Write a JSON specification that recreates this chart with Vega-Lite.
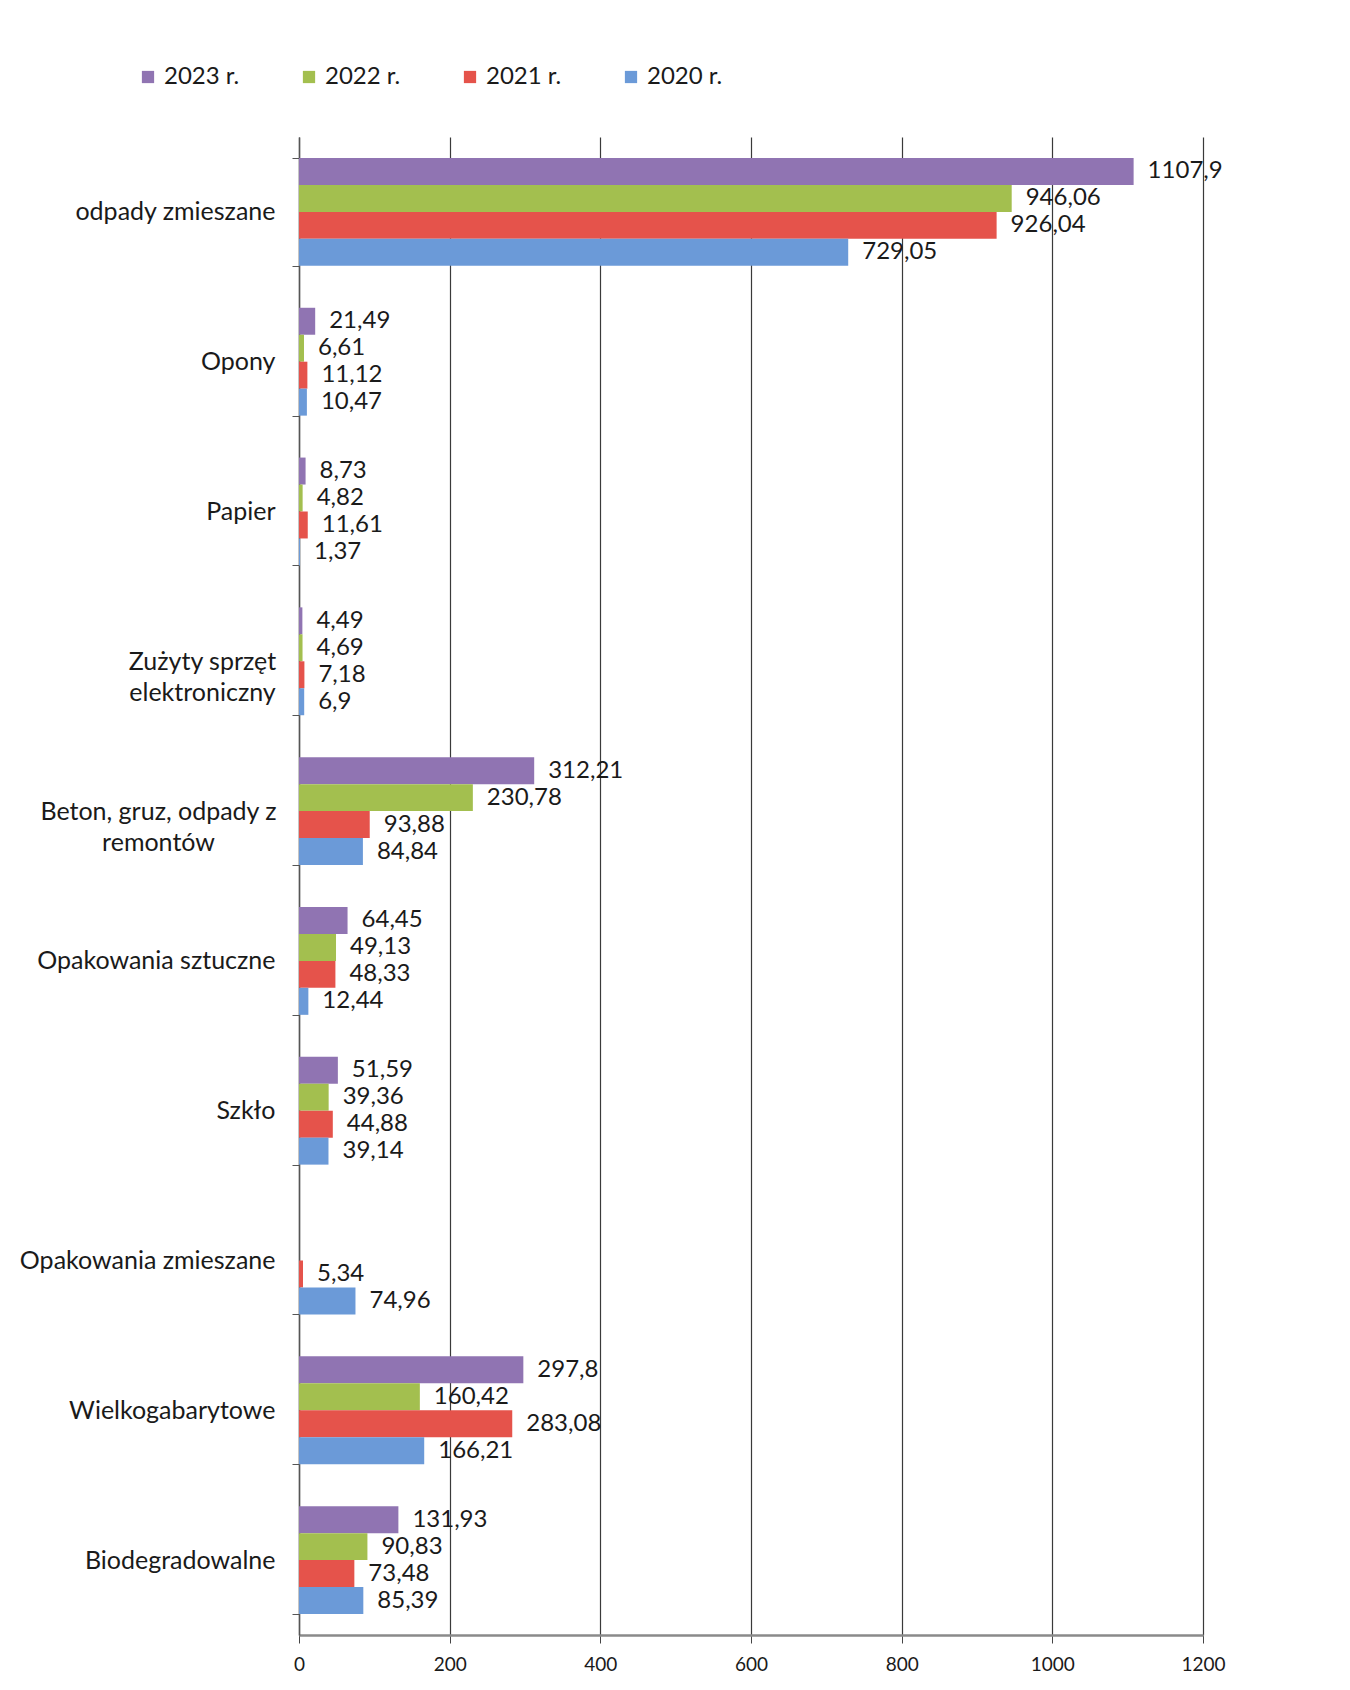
{
  "$schema": "https://vega.github.io/schema/vega-lite/v6.json",
  "autosize": {"type": "none"},
  "padding": {"left": 299, "top": 137, "right": 147, "bottom": 55},
  "width": 904,
  "height": 1498,
  "background": "white",
  "config": {
    "font": "Lato",
    "view": {"stroke": null},
    "locale": {"number": {"decimal": ",", "thousands": "", "grouping": [3], "currency": ["", " zł"]}}
  },
  "data": {
    "values": [
      {"kategoria": "odpady zmieszane", "rok": "2023 r.", "wartosc": 1107.9},
      {"kategoria": "odpady zmieszane", "rok": "2022 r.", "wartosc": 946.06},
      {"kategoria": "odpady zmieszane", "rok": "2021 r.", "wartosc": 926.04},
      {"kategoria": "odpady zmieszane", "rok": "2020 r.", "wartosc": 729.05},
      {"kategoria": "Opony", "rok": "2023 r.", "wartosc": 21.49},
      {"kategoria": "Opony", "rok": "2022 r.", "wartosc": 6.61},
      {"kategoria": "Opony", "rok": "2021 r.", "wartosc": 11.12},
      {"kategoria": "Opony", "rok": "2020 r.", "wartosc": 10.47},
      {"kategoria": "Papier", "rok": "2023 r.", "wartosc": 8.73},
      {"kategoria": "Papier", "rok": "2022 r.", "wartosc": 4.82},
      {"kategoria": "Papier", "rok": "2021 r.", "wartosc": 11.61},
      {"kategoria": "Papier", "rok": "2020 r.", "wartosc": 1.37},
      {"kategoria": "Zużyty sprzęt elektroniczny", "rok": "2023 r.", "wartosc": 4.49},
      {"kategoria": "Zużyty sprzęt elektroniczny", "rok": "2022 r.", "wartosc": 4.69},
      {"kategoria": "Zużyty sprzęt elektroniczny", "rok": "2021 r.", "wartosc": 7.18},
      {"kategoria": "Zużyty sprzęt elektroniczny", "rok": "2020 r.", "wartosc": 6.9},
      {"kategoria": "Beton, gruz, odpady z remontów", "rok": "2023 r.", "wartosc": 312.21},
      {"kategoria": "Beton, gruz, odpady z remontów", "rok": "2022 r.", "wartosc": 230.78},
      {"kategoria": "Beton, gruz, odpady z remontów", "rok": "2021 r.", "wartosc": 93.88},
      {"kategoria": "Beton, gruz, odpady z remontów", "rok": "2020 r.", "wartosc": 84.84},
      {"kategoria": "Opakowania sztuczne", "rok": "2023 r.", "wartosc": 64.45},
      {"kategoria": "Opakowania sztuczne", "rok": "2022 r.", "wartosc": 49.13},
      {"kategoria": "Opakowania sztuczne", "rok": "2021 r.", "wartosc": 48.33},
      {"kategoria": "Opakowania sztuczne", "rok": "2020 r.", "wartosc": 12.44},
      {"kategoria": "Szkło", "rok": "2023 r.", "wartosc": 51.59},
      {"kategoria": "Szkło", "rok": "2022 r.", "wartosc": 39.36},
      {"kategoria": "Szkło", "rok": "2021 r.", "wartosc": 44.88},
      {"kategoria": "Szkło", "rok": "2020 r.", "wartosc": 39.14},
      {"kategoria": "Opakowania zmieszane", "rok": "2021 r.", "wartosc": 5.34},
      {"kategoria": "Opakowania zmieszane", "rok": "2020 r.", "wartosc": 74.96},
      {"kategoria": "Wielkogabarytowe", "rok": "2023 r.", "wartosc": 297.8},
      {"kategoria": "Wielkogabarytowe", "rok": "2022 r.", "wartosc": 160.42},
      {"kategoria": "Wielkogabarytowe", "rok": "2021 r.", "wartosc": 283.08},
      {"kategoria": "Wielkogabarytowe", "rok": "2020 r.", "wartosc": 166.21},
      {"kategoria": "Biodegradowalne", "rok": "2023 r.", "wartosc": 131.93},
      {"kategoria": "Biodegradowalne", "rok": "2022 r.", "wartosc": 90.83},
      {"kategoria": "Biodegradowalne", "rok": "2021 r.", "wartosc": 73.48},
      {"kategoria": "Biodegradowalne", "rok": "2020 r.", "wartosc": 85.39}
    ]
  },
  "encoding": {
    "y": {
      "field": "kategoria",
      "type": "nominal",
      "sort": null,
      "scale": {
        "domain": ["odpady zmieszane", "Opony", "Papier", "Zużyty sprzęt elektroniczny", "Beton, gruz, odpady z remontów", "Opakowania sztuczne", "Szkło", "Opakowania zmieszane", "Wielkogabarytowe", "Biodegradowalne"],
        "paddingInner": 0.28,
        "paddingOuter": 0.14
      },
      "axis": {
        "title": null,
        "tickBand": "extent",
        "grid": false,
        "domainColor": "#555555",
        "domainWidth": 1.5,
        "tickColor": "#555555",
        "tickSize": 7,
        "labelFontSize": 25,
        "labelColor": "#1a1a1a",
        "labelLimit": 400,
        "labelLineHeight": 31,
        "labelExpr": "datum.value == 'Zużyty sprzęt elektroniczny' ? ['Zużyty sprzęt', 'elektroniczny'] : datum.value == 'Beton, gruz, odpady z remontów' ? ['Beton, gruz, odpady z', 'remontów'] : datum.value",
        "labelAlign": {"condition": {"test": "datum.value == 'Zużyty sprzęt elektroniczny' || datum.value == 'Beton, gruz, odpady z remontów'", "value": "center"}, "value": "right"},
        "labelPadding": {"condition": {"test": "datum.value == 'Zużyty sprzęt elektroniczny' || datum.value == 'Beton, gruz, odpady z remontów'", "expr": "datum.value == 'Zużyty sprzęt elektroniczny' ? 90 : 134"}, "value": 17}
      }
    },
    "yOffset": {
      "field": "rok",
      "type": "nominal",
      "scale": {"domain": ["2023 r.", "2022 r.", "2021 r.", "2020 r."], "paddingInner": 0, "paddingOuter": 0}
    },
    "x": {
      "field": "wartosc",
      "type": "quantitative",
      "scale": {"domain": [0, 1200], "nice": false},
      "axis": {
        "title": null,
        "values": [0, 200, 400, 600, 800, 1000, 1200],
        "grid": true,
        "gridColor": "#3a3a3a",
        "gridWidth": 1.2,
        "domainColor": "#8a8a8a",
        "domainWidth": 2.5,
        "tickColor": "#444444",
        "tickSize": 8,
        "labelFontSize": 19,
        "labelColor": "#1a1a1a",
        "labelPadding": 12,
        "labelFlush": false
      }
    }
  },
  "layer": [
    {
      "mark": {"type": "bar"},
      "encoding": {
        "color": {
          "field": "rok",
          "type": "nominal",
          "scale": {"domain": ["2023 r.", "2022 r.", "2021 r.", "2020 r."], "range": ["#9074b2", "#a3bf4f", "#e5534b", "#6b9ad8"]},
          "legend": {
            "title": null,
            "orient": "none",
            "direction": "horizontal",
            "legendX": -163,
            "legendY": -72,
            "symbolType": "square",
            "symbolSize": 150,
            "symbolStrokeWidth": 0,
            "labelFontSize": 24,
            "labelColor": "#1a1a1a",
            "labelOffset": 4,
            "columnPadding": 57
          }
        }
      }
    },
    {
      "mark": {"type": "text", "align": "left", "baseline": "middle", "dx": 14, "fontSize": 24, "color": "#1a1a1a"},
      "encoding": {
        "text": {"field": "wartosc", "type": "quantitative", "format": ".2~f"}
      }
    }
  ]
}
